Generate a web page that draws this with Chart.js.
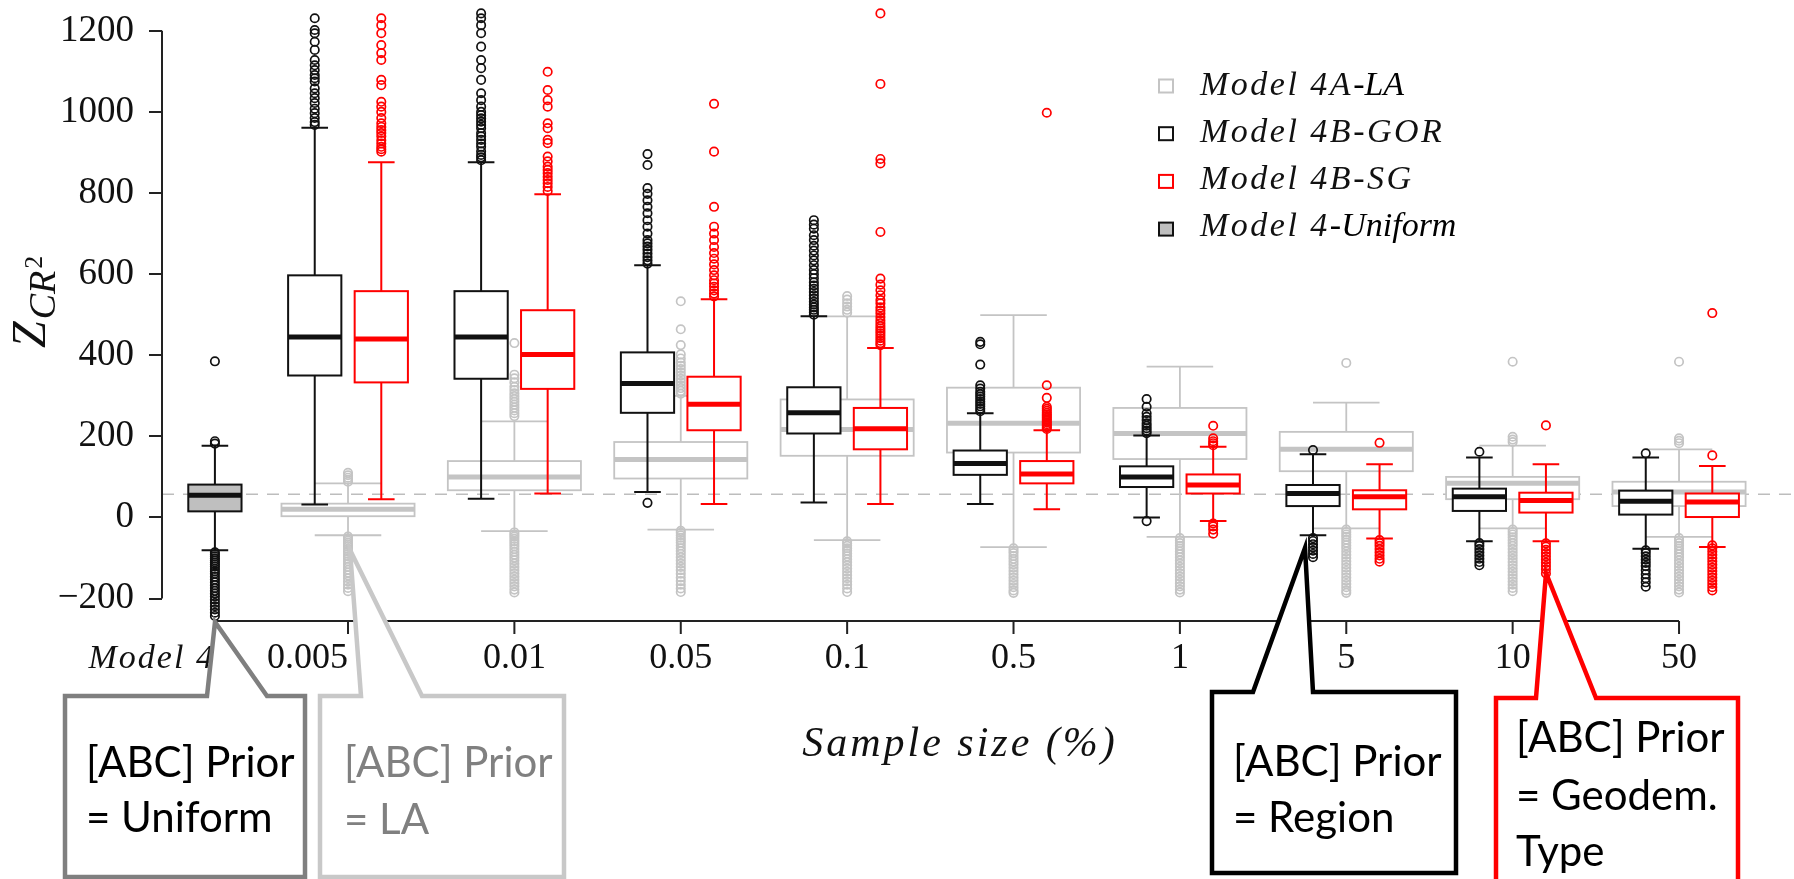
<!DOCTYPE html>
<html>
<head>
<meta charset="utf-8">
<script src="https://cdn.jsdelivr.net/npm/chart.js@4.4.1/dist/chart.umd.min.js"></script>
<style>
  body { margin: 0; background: #fff; }
  #wrap { width: 1794px; height: 879px; position: relative; }
</style>
</head>
<body>
<div id="wrap"><canvas id="boxChart"></canvas></div>
<script>
// sample sizes (%), Model 4 sits on its own at the far left
var groups = ['0.005', '0.01', '0.05', '0.1', '0.5', '1', '5', '10', '50'];
var xLabels = ['Model 4'].concat(groups);
var yTicks = [-200, 0, 200, 400, 600, 800, 1000, 1200];
// legend text: math-italic part + plain italic suffix
var legendMath = ['Model 4A', 'Model 4B-GOR', 'Model 4B-SG', 'Model 4'];
var legendSuffix = ['-LA', '', '', '-Uniform'];
var refValue = 57;

// box stats: [lower whisker, q1, median, q3, upper whisker]
var uniformStats = [-81, 15, 55, 81, 177];
var uniformOutliers = [385, 182, 188, -86, -91, -96, -101, -106, -111, -116, -121, -127, -133, -139, -146,
  -153, -160, -167, -174, -181, -188, -195, -203, -211, -219, -227, -235, -243];

var laStats = [
  [-44, 3, 20, 34, 84],
  [-34, 67, 100, 139, 237],
  [-30, 96, 143, 186, 300],
  [-56, 152, 217, 291, 496],
  [-73, 160, 232, 320, 499],
  [-48, 144, 207, 270, 372],
  [-27, 114, 168, 211, 283],
  [-27, 45, 84, 100, 177],
  [-48, 28, 63, 88, 168]
];
var gorStats = [
  [32, 350, 445, 597, 961],
  [46, 342, 445, 558, 876],
  [63, 258, 330, 407, 622],
  [37, 207, 258, 321, 496],
  [33, 105, 133, 165, 257],
  [0, 75, 100, 126, 202],
  [-44, 28, 59, 80, 156],
  [-59, 16, 51, 71, 148],
  [-77, 7, 40, 66, 148]
];
var sgStats = [
  [45, 333, 440, 558, 876],
  [59, 317, 402, 511, 797],
  [33, 215, 279, 347, 538],
  [33, 168, 219, 270, 418],
  [20, 84, 107, 139, 215],
  [-9, 59, 80, 106, 174],
  [-52, 20, 51, 67, 131],
  [-59, 12, 42, 61, 131],
  [-73, 1, 38, 59, 127]
];

var laOutliers = [
  [88, 93, 98, 104, 110, -47, -52, -57, -62, -67, -72, -78, -84, -90, -96, -102, -108, -115, -122, -129, -136, -143, -150, -158, -166, -174, -182],
  [250, 257, 264, 271, 278, 285, 292, 299, 306, 314, 322, 333, 343, 352, 430, -37, -42, -47, -53, -59, -65, -71, -78, -85, -92, -99, -106, -114, -122, -130, -138, -146, -154, -162, -170, -178, -185],
  [305, 312, 319, 326, 334, 342, 350, 358, 366, 374, 382, 392, 402, 425, 464, 533, -33, -38, -44, -50, -56, -62, -69, -76, -83, -90, -98, -106, -114, -122, -130, -139, -148, -157, -166, -175, -184],
  [505, 512, 520, 528, 537, 546, -59, -64, -70, -76, -82, -89, -96, -103, -110, -118, -126, -134, -142, -150, -158, -166, -175, -184],
  [-76, -82, -88, -95, -102, -109, -116, -124, -132, -140, -148, -156, -164, -172, -180, -186],
  [-51, -57, -63, -70, -77, -84, -91, -98, -106, -114, -122, -130, -138, -146, -154, -162, -170, -178, -185],
  [381, -30, -36, -42, -48, -55, -62, -69, -76, -84, -92, -100, -108, -116, -124, -132, -140, -148, -156, -164, -172, -180, -186],
  [186, 192, 199, 384, -30, -36, -42, -49, -56, -63, -70, -78, -86, -94, -102, -110, -118, -126, -134, -142, -150, -158, -166, -174, -182],
  [183, 189, 195, 384, -51, -57, -63, -70, -77, -84, -91, -98, -106, -114, -122, -130, -138, -146, -154, -162, -170, -178, -185]
];
var gorOutliers = [
  [968, 975, 985, 997, 1008, 1022, 1034, 1046, 1058, 1075, 1083, 1091, 1103, 1115, 1128, 1153, 1173, 1194, 1202, 1231],
  [881, 888, 894, 903, 914, 922, 931, 940, 948, 960, 968, 976, 984, 992, 1000, 1013, 1029, 1046, 1079, 1108, 1128, 1161, 1194, 1214, 1231, 1243],
  [36, 626, 634, 642, 651, 660, 668, 676, 684, 700, 717, 733, 750, 766, 782, 798, 812, 869, 896],
  [500, 506, 512, 518, 525, 532, 540, 548, 556, 564, 572, 580, 590, 600, 610, 622, 634, 646, 658, 670, 684, 696, 712, 722, 733],
  [262, 268, 274, 280, 286, 292, 298, 304, 310, 318, 326, 377, 427, 433],
  [-9, 208, 214, 220, 226, 232, 240, 248, 257, 273, 292],
  [166, -51, -58, -66, -74, -82, -90, -98],
  [162, -63, -70, -78, -86, -94, -102, -110, -118],
  [158, -81, -88, -96, -104, -112, -120, -130, -140, -150, -160, -171]
];
var sgOutliers = [
  [902, 908, 914, 922, 930, 940, 948, 955, 963, 972, 985, 1000, 1013, 1025, 1066, 1079, 1128, 1145, 1165, 1194, 1214, 1231],
  [805, 815, 824, 832, 840, 849, 857, 865, 878, 890, 923, 931, 960, 972, 1013, 1029, 1054, 1099],
  [545, 552, 560, 569, 577, 585, 597, 610, 624, 638, 652, 667, 684, 700, 717, 766, 902, 1020],
  [425, 430, 436, 442, 448, 454, 460, 466, 472, 479, 486, 494, 503, 510, 518, 528, 536, 548, 560, 574, 589, 704, 873, 884, 1069, 1243],
  [218, 222, 226, 230, 234, 238, 242, 246, 250, 254, 258, 263, 268, 273, 295, 326, 998],
  [178, 183, 188, 195, 226, -15, -22, -30, -40],
  [184, -56, -63, -70, -78, -86, -94, -102, -109],
  [227, -64, -72, -80, -88, -96, -104, -112, -120, -128, -138],
  [153, 504, -69, -76, -84, -92, -100, -108, -116, -124, -132, -140, -148, -156, -164, -172, -180]
];

var LA_COLOR = '#c4c4c4';
var GOR_COLOR = '#111111';
var SG_COLOR = '#ff0000';
var UNI_FILL = '#bfbfbf';

var modelPos = 0.2;
var groupPos = groups.map(function (g, i) { return i + 1; });
var sideShift = 0.2;
var narrow = 0.32;
var wide = 0.8;

function toPoints(lists, shift) {
  var pts = [];
  lists.forEach(function (vals, i) {
    vals.forEach(function (v) { pts.push({ x: groupPos[i] + shift, y: v }); });
  });
  return pts;
}

function drawBox(chart, center, width, st, stroke, fill, lw, medW) {
  var ctx = chart.ctx, x = chart.scales.x, y = chart.scales.y;
  var xl = x.getPixelForValue(center - width / 2), xr = x.getPixelForValue(center + width / 2);
  var xc = x.getPixelForValue(center);
  var cl = x.getPixelForValue(center - width / 4), cr = x.getPixelForValue(center + width / 4);
  var lo = y.getPixelForValue(st[0]), q1 = y.getPixelForValue(st[1]);
  var md = y.getPixelForValue(st[2]), q3 = y.getPixelForValue(st[3]), hi = y.getPixelForValue(st[4]);
  ctx.save();
  ctx.strokeStyle = stroke;
  ctx.lineWidth = lw;
  ctx.beginPath();
  ctx.moveTo(xc, q3); ctx.lineTo(xc, hi);
  ctx.moveTo(cl, hi); ctx.lineTo(cr, hi);
  ctx.moveTo(xc, q1); ctx.lineTo(xc, lo);
  ctx.moveTo(cl, lo); ctx.lineTo(cr, lo);
  ctx.stroke();
  ctx.fillStyle = fill;
  ctx.fillRect(xl, q3, xr - xl, q1 - q3);
  ctx.strokeRect(xl, q3, xr - xl, q1 - q3);
  ctx.lineWidth = medW;
  ctx.beginPath();
  ctx.moveTo(xl, md); ctx.lineTo(xr, md);
  ctx.stroke();
  ctx.restore();
}

var boxPlugin = {
  id: 'boxes',
  beforeDatasetsDraw: function (chart) {
    var ctx = chart.ctx, area = chart.chartArea, y = chart.scales.y;
    // dashed reference line
    ctx.save();
    ctx.strokeStyle = '#bdbdbd';
    ctx.lineWidth = 1.6;
    ctx.setLineDash([12, 9]);
    ctx.beginPath();
    ctx.moveTo(area.left, y.getPixelForValue(refValue));
    ctx.lineTo(area.right, y.getPixelForValue(refValue));
    ctx.stroke();
    ctx.restore();

    laStats.forEach(function (st, i) { drawBox(chart, groupPos[i], wide, st, LA_COLOR, '#fff', 1.8, 5); });
    drawBox(chart, modelPos, narrow, uniformStats, GOR_COLOR, UNI_FILL, 2, 5);
    gorStats.forEach(function (st, i) { drawBox(chart, groupPos[i] - sideShift, narrow, st, GOR_COLOR, '#fff', 2, 5); });
    sgStats.forEach(function (st, i) { drawBox(chart, groupPos[i] + sideShift, narrow, st, SG_COLOR, '#fff', 2, 5); });
  },
  afterDraw: function (chart) {
    var ctx = chart.ctx, area = chart.chartArea, x = chart.scales.x, y = chart.scales.y;
    ctx.save();
    // trimmed spines
    ctx.strokeStyle = '#222';
    ctx.lineWidth = 2;
    ctx.beginPath();
    ctx.moveTo(area.left, y.getPixelForValue(yTicks[yTicks.length - 1]));
    ctx.lineTo(area.left, y.getPixelForValue(yTicks[0]));
    ctx.moveTo(x.getPixelForValue(modelPos), area.bottom);
    ctx.lineTo(x.getPixelForValue(groupPos[groupPos.length - 1]), area.bottom);
    var xPos = [modelPos].concat(groupPos);
    xPos.forEach(function (p) {
      ctx.moveTo(x.getPixelForValue(p), area.bottom);
      ctx.lineTo(x.getPixelForValue(p), area.bottom + 13);
    });
    ctx.stroke();

    // x tick labels
    ctx.fillStyle = '#111';
    ctx.textBaseline = 'alphabetic';
    xLabels.forEach(function (lab, i) {
      ctx.textAlign = i < 2 ? 'right' : 'center';
      if (i === 0) {
        ctx.font = 'italic 34px "Liberation Serif"';
        ctx.letterSpacing = '2px';
      } else {
        ctx.font = '36px "Liberation Serif"';
        ctx.letterSpacing = '0px';
      }
      ctx.fillText(lab, x.getPixelForValue(xPos[i]), 668);
    });

    // axis titles
    ctx.textAlign = 'center';
    ctx.textBaseline = 'middle';
    ctx.font = 'italic 42px "Liberation Serif"';
    ctx.letterSpacing = '3px';
    ctx.fillText('Sample size (%)', 960, 745);
    ctx.letterSpacing = '0px';

    ctx.save();
    ctx.translate(45, 348);
    ctx.rotate(-Math.PI / 2);
    ctx.textAlign = 'left';
    ctx.textBaseline = 'alphabetic';
    ctx.font = 'italic 48px "Liberation Serif"';
    ctx.fillText('Z', 0, 0);
    var zw = ctx.measureText('Z').width;
    ctx.font = 'italic 38px "Liberation Serif"';
    ctx.fillText('CR', zw + 2, 10);
    var cw = ctx.measureText('CR').width;
    ctx.font = '26px "Liberation Serif"';
    ctx.fillText('2', zw + cw + 4, -3);
    ctx.restore();

    // legend
    var legendStyles = [
      { stroke: LA_COLOR, fill: '#fff' },
      { stroke: GOR_COLOR, fill: '#fff' },
      { stroke: SG_COLOR, fill: '#fff' },
      { stroke: GOR_COLOR, fill: UNI_FILL }
    ];
    ctx.textAlign = 'left';
    ctx.textBaseline = 'alphabetic';
    legendMath.forEach(function (lab, i) {
      var cy = 86 + i * 47.7;
      var by = 95 + i * 47;
      ctx.fillStyle = legendStyles[i].fill;
      ctx.strokeStyle = legendStyles[i].stroke;
      ctx.lineWidth = 2;
      ctx.fillRect(1159, cy - 6.5, 14, 13);
      ctx.strokeRect(1159, cy - 6.5, 14, 13);
      ctx.fillStyle = '#111';
      ctx.font = 'italic 34px "Liberation Serif"';
      ctx.letterSpacing = '2.5px';
      ctx.fillText(lab, 1200, by);
      var w = ctx.measureText(lab).width;
      if (legendSuffix[i]) {
        ctx.letterSpacing = '0px';
        ctx.fillStyle = '#000';
        ctx.fillText(legendSuffix[i], 1200 + w, by);
      }
    });
    ctx.letterSpacing = '0px';

    // callouts
    var callouts = [
      { lines: ['[ABC] Prior', '= Uniform'], edge: '#7f7f7f', ink: '#000', L: 65, R: 305, T: 696, B: 877, tip: [215, 622], base: [207, 267], tx: 86, ly: [763, 818] },
      { lines: ['[ABC] Prior', '= LA'], edge: '#c8c8c8', ink: '#808080', L: 320, R: 564, T: 696, B: 877, tip: [350, 550], base: [361, 422], tx: 344, ly: [763, 820] },
      { lines: ['[ABC] Prior', '= Region'], edge: '#000', ink: '#000', L: 1212, R: 1456, T: 692, B: 873, tip: [1305, 548], base: [1253, 1313], tx: 1233, ly: [762, 818] },
      { lines: ['[ABC] Prior', '= Geodem.', 'Type'], edge: '#ff0000', ink: '#000', L: 1496, R: 1738, T: 698, B: 905, tip: [1546, 573], base: [1536, 1596], tx: 1516, ly: [738, 796, 852] }
    ];
    callouts.forEach(function (c) {
      ctx.beginPath();
      ctx.moveTo(c.L, c.T);
      ctx.lineTo(c.base[0], c.T);
      ctx.lineTo(c.tip[0], c.tip[1]);
      ctx.lineTo(c.base[1], c.T);
      ctx.lineTo(c.R, c.T);
      ctx.lineTo(c.R, c.B);
      ctx.lineTo(c.L, c.B);
      ctx.closePath();
      ctx.fillStyle = '#fff';
      ctx.fill();
      ctx.strokeStyle = c.edge;
      ctx.lineWidth = 4.5;
      ctx.lineJoin = 'miter';
      ctx.stroke();
      ctx.fillStyle = c.ink;
      ctx.font = '42px Lato';
      ctx.textAlign = 'left';
      ctx.textBaseline = 'middle';
      c.lines.forEach(function (t, k) { ctx.fillText(t, c.tx, c.ly[k]); });
    });
    ctx.restore();
  }
};

function outlierSet(data, color, order) {
  return {
    data: data,
    order: order,
    showLine: false,
    pointRadius: 4.2,
    pointHoverRadius: 4.2,
    pointBorderWidth: 1.7,
    pointBackgroundColor: 'rgba(0,0,0,0)',
    borderColor: color,
    pointBorderColor: color,
    clip: false
  };
}

var ctx = document.getElementById('boxChart').getContext('2d');
var boxChart = new Chart(ctx, {
  type: 'scatter',
  plugins: [boxPlugin],
  data: {
    datasets: [
      outlierSet(toPoints(laOutliers, 0), LA_COLOR, 4),
      outlierSet(uniformOutliers.map(function (v) { return { x: modelPos, y: v }; }), GOR_COLOR, 3),
      outlierSet(toPoints(gorOutliers, -sideShift), GOR_COLOR, 2),
      outlierSet(toPoints(sgOutliers, sideShift), SG_COLOR, 1)
    ]
  },
  options: {
    responsive: true,
    maintainAspectRatio: false,
    animation: false,
    devicePixelRatio: 1,
    events: [],
    layout: { padding: 0, autoPadding: false },
    plugins: { legend: { display: false }, tooltip: { enabled: false } },
    scales: {
      x: {
        type: 'linear',
        min: -0.118,
        max: 9.691,
        grid: { display: false },
        border: { display: false },
        ticks: { display: false },
        afterFit: function (s) {
          s.height = 258;
          s.paddingLeft = 0;
          s.paddingRight = 0;
        }
      },
      y: {
        type: 'linear',
        min: -255.4,
        max: 1276,
        afterFit: function (s) {
          s.width = 162;
          s.paddingTop = 0;
          s.paddingBottom = 0;
        },
        afterBuildTicks: function (s) { s.ticks = yTicks.map(function (v) { return { value: v }; }); },
        grid: { drawOnChartArea: false, drawTicks: true, tickLength: 13, color: '#222', lineWidth: 2 },
        border: { display: false },
        ticks: {
          padding: 15,
          color: '#111',
          font: { family: 'Liberation Serif', size: 37 },
          callback: function (v) { return v < 0 ? '\u2212' + (-v) : String(v); }
        }
      }
    }
  }
});
</script>
</body>
</html>
